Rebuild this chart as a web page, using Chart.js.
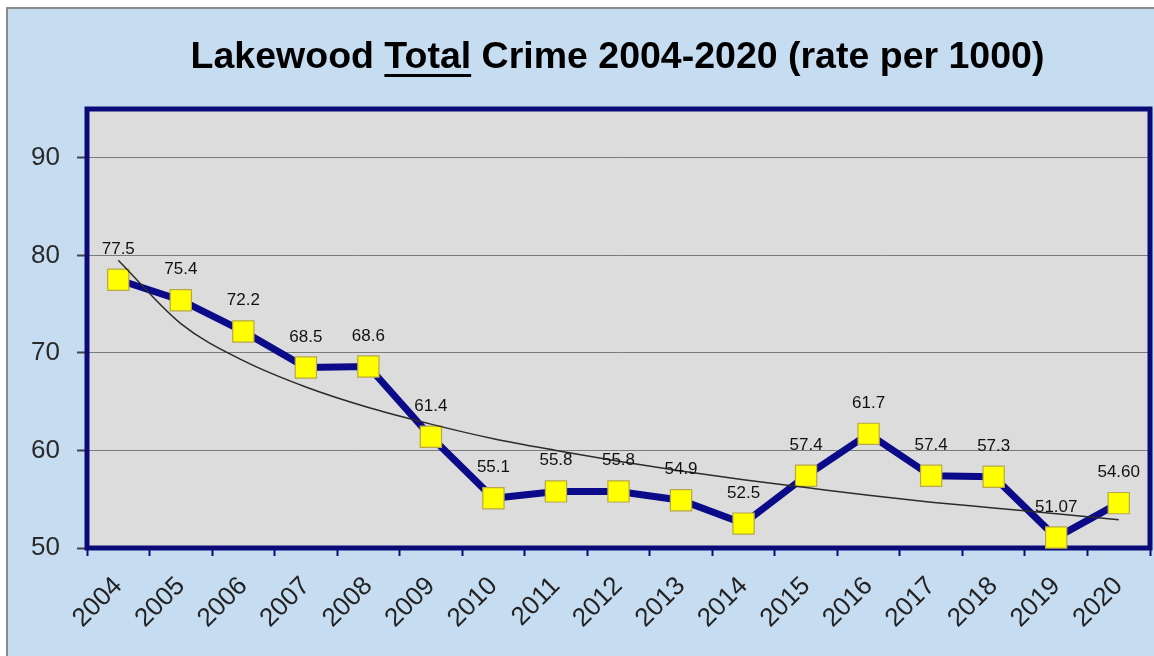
<!DOCTYPE html>
<html>
<head>
<meta charset="utf-8">
<title>Lakewood Total Crime 2004-2020</title>
<script src="https://cdn.jsdelivr.net/npm/chart.js@4/dist/chart.umd.min.js"></script>
<style>
  html, body { margin: 0; padding: 0; background: #fff; overflow: hidden; }
  .frame {
    position: absolute; left: 6px; top: 7px; width: 1200px; height: 700px;
    background: #C6DCF1; border-left: 2px solid #8c8c8c; border-top: 2px solid #8c8c8c;
  }
  #crime_chart { position: absolute; left: 0; top: 0; }
</style>
</head>
<body>
<div class="frame"></div>
<canvas id="crime_chart" width="1154" height="656"></canvas>
<script>
// data
var years = ['2004','2005','2006','2007','2008','2009','2010','2011','2012','2013','2014','2015','2016','2017','2018','2019','2020'];
var rates = [77.5, 75.4, 72.2, 68.5, 68.6, 61.4, 55.1, 55.8, 55.8, 54.9, 52.5, 57.4, 61.7, 57.4, 57.3, 51.07, 54.60];
var rateLabels = ['77.5','75.4','72.2','68.5','68.6','61.4','55.1','55.8','55.8','54.9','52.5','57.4','61.7','57.4','57.3','51.07','54.60'];
// log trend line at each year
var trend = [79.5, 73.0, 69.2, 66.5, 64.4, 62.7, 61.2, 60.0, 58.9, 57.9, 57.0, 56.2, 55.4, 54.7, 54.1, 53.5, 52.9];
var yTicks = [50, 60, 70, 80, 90];

var FONT = "Arial, 'Liberation Sans', sans-serif";

//-------------------------------- plot area background + border --------------------------------//
var plotBox = {
    id: 'plotBox',
    beforeDraw: function (chart) {
        var a = chart.chartArea, ctx = chart.ctx;
        ctx.save();
        ctx.fillStyle = '#DCDCDC';
        ctx.fillRect(a.left, a.top, a.right - a.left, a.bottom - a.top);
        ctx.restore();
    },
    beforeDatasetsDraw: function (chart) {
        var a = chart.chartArea, ctx = chart.ctx;
        ctx.save();
        ctx.strokeStyle = '#0A0A78';
        ctx.lineWidth = 5;
        ctx.strokeRect(a.left, a.top, a.right - a.left, a.bottom - a.top);
        ctx.restore();
    }
};

//-------------------------------- value labels above the markers --------------------------------//
var valueLabels = {
    id: 'valueLabels',
    afterDatasetsDraw: function (chart) {
        var ctx = chart.ctx;
        var meta = chart.getDatasetMeta(1);
        ctx.save();
        ctx.font = '17px ' + FONT;
        ctx.fillStyle = '#111';
        ctx.textAlign = 'center';
        ctx.textBaseline = 'alphabetic';
        meta.data.forEach(function (pt, i) {
            ctx.fillText(rateLabels[i], pt.x, pt.y - 26);
        });
        ctx.restore();
    }
};

//-------------------------------- title with underlined word --------------------------------//
var titleText = {
    id: 'titleText',
    afterDraw: function (chart) {
        var ctx = chart.ctx;
        var parts = ['Lakewood ', 'Total', ' Crime 2004-2020 (rate per 1000)'];
        ctx.save();
        ctx.font = 'bold 37.5px ' + FONT;
        ctx.fillStyle = '#000';
        ctx.textBaseline = 'alphabetic';
        ctx.textAlign = 'left';
        var w = parts.map(function (p) { return ctx.measureText(p).width; });
        var x = 617.5 - (w[0] + w[1] + w[2]) / 2;
        var y = 68;
        ctx.fillText(parts[0], x, y);
        ctx.fillText(parts[1], x + w[0], y);
        ctx.fillRect(x + w[0], y + 6, w[1], 3);
        ctx.fillText(parts[2], x + w[0] + w[1], y);
        ctx.restore();
    }
};

const CHART = document.getElementById('crime_chart');

let lineChart = new Chart(CHART, {
    type: 'line',
    data: {
        labels: years,
        datasets: [
            {
                // trend drawn on top of the series
                data: trend,
                borderColor: '#2b2b2b',
                borderWidth: 1.5,
                pointRadius: 0,
                cubicInterpolationMode: 'monotone',
                fill: false,
                order: 0
            },
            {
                data: rates,
                borderColor: '#0B0B8A',
                borderWidth: 7,
                pointStyle: 'rect',
                pointRadius: 15,
                pointBackgroundColor: '#FFFF00',
                pointBorderColor: '#B8A848',
                pointBorderWidth: 1.2,
                fill: false,
                clip: false,
                order: 1
            }
        ]
    },
    options: {
        responsive: false,
        animation: false,
        layout: { autoPadding: false, padding: { left: 0, top: 109, right: 4, bottom: 0 } },
        plugins: {
            legend: { display: false },
            title: { display: false },
            tooltip: { enabled: false }
        },
        scales: {
            x: {
                offset: true,
                grid: {
                    offset: true,
                    drawOnChartArea: false,
                    tickLength: 8,
                    tickColor: '#0A0A78',
                    tickWidth: 2
                },
                border: { display: false },
                ticks: {
                    minRotation: 45,
                    maxRotation: 45,
                    padding: 15,
                    color: '#222',
                    font: { family: FONT, size: 26 }
                },
                afterFit: function (s) {
                    s.height = 108;
                    s.paddingLeft = 0;
                    s.paddingRight = 0;
                }
            },
            y: {
                min: 50,
                max: 95,
                ticks: {
                    stepSize: 10,
                    padding: 17,
                    color: '#2a2a2a',
                    font: { family: FONT, size: 26 }
                },
                afterBuildTicks: function (s) {
                    s.ticks = yTicks.map(function (v) { return { value: v }; });
                },
                grid: {
                    color: '#7a7a7a',
                    lineWidth: 1,
                    tickLength: 10,
                    tickColor: '#444',
                    tickWidth: 2
                },
                border: { display: false },
                afterFit: function (s) { s.width = 87; }
            }
        }
    },
    plugins: [plotBox, valueLabels, titleText]
});
</script>
</body>
</html>
